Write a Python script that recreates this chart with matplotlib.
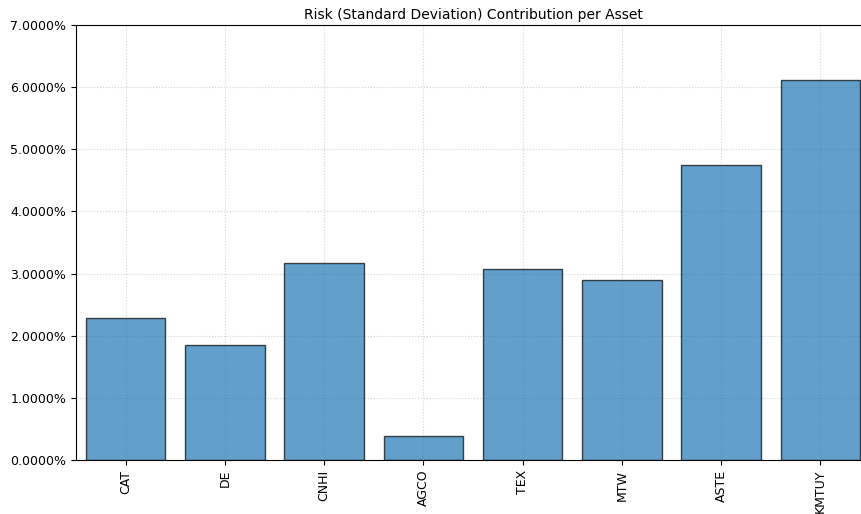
import matplotlib
matplotlib.use("Agg")
import matplotlib.pyplot as plt
from matplotlib.ticker import FuncFormatter

assets = ["CAT", "DE", "CNHI", "AGCO", "TEX", "MTW", "ASTE", "KMTUY"]
risk_contrib = [0.0229, 0.0185, 0.0317, 0.0039, 0.0307, 0.0290, 0.0474, 0.0612]

fig = plt.figure(figsize=(8.62, 5.14), dpi=100)
W, H = 862, 514
left, right, top, bottom = 76, 870, 25, 460
ax = fig.add_axes([left / W, 1 - bottom / H, (right - left) / W, (bottom - top) / H])

x = range(len(assets))
ax.bar(x, risk_contrib, width=0.8, color="tab:blue", alpha=0.7, edgecolor="black", linewidth=1.0)
ax.set_xticks(list(x))
ax.set_xticklabels(assets, rotation=90, fontsize=9)
ax.set_xlim(-0.5, len(assets) - 0.5)
ax.set_ylim(0, 0.07)
ax.set_yticks([i / 100 for i in range(8)])
ax.yaxis.set_major_formatter(FuncFormatter(lambda v, p: f"{v:.4%}"))
ax.tick_params(axis="y", labelsize=9)
ax.grid(True, linestyle=":", color="gray", alpha=0.35, linewidth=0.8)
ax.set_axisbelow(True)
ax.set_title("Risk (Standard Deviation) Contribution per Asset", fontsize=10, pad=4)

fig.savefig("out.png", dpi=100)
